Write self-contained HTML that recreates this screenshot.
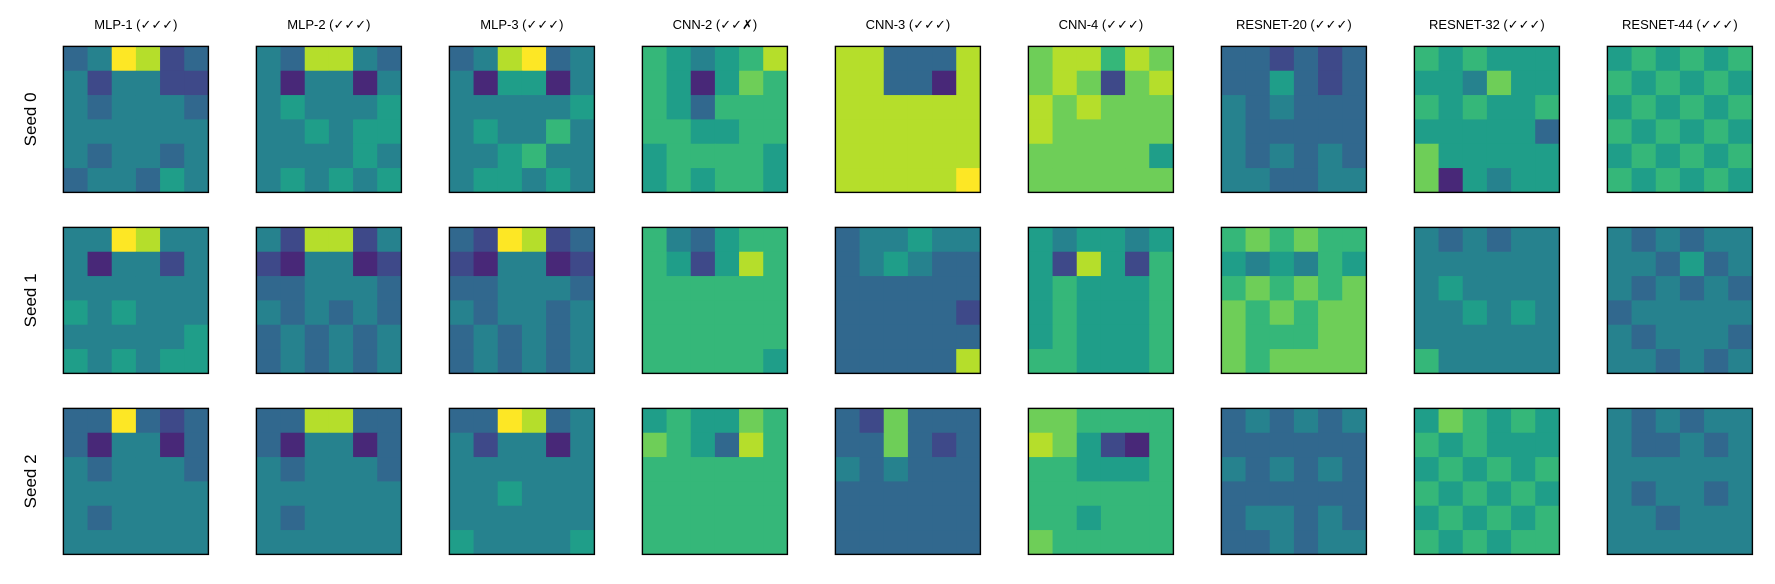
<!DOCTYPE html>
<html><head><meta charset="utf-8">
<style>
html,body{margin:0;padding:0;background:#fff;}
svg{display:block;font-family:"Liberation Sans","DejaVu Sans",sans-serif;}
</style></head>
<body>
<svg id="fig" width="1775" height="584" viewBox="0 0 1775 584"></svg>
<script>
const models = ["MLP-1 (✓✓✓)","MLP-2 (✓✓✓)","MLP-3 (✓✓✓)","CNN-2 (✓✓✗)","CNN-3 (✓✓✓)","CNN-4 (✓✓✓)","RESNET-20 (✓✓✓)","RESNET-32 (✓✓✓)","RESNET-44 (✓✓✓)"];
const seeds = ["Seed 0","Seed 1","Seed 2"];
const seed0Maps = [
 ["349823","424422","434443","444444","434434","344354"],
 ["438843","414414","454445","445455","444454","454545"],
 ["348934","415514","444445","454464","445644","455454"],
 ["654568","651576","653666","665566","566665","565665"],
 ["883338","883318","888888","888888","888888","888889"],
 ["788687","787278","878777","877777","777775","777777"],
 ["332323","335323","434333","433333","434343","443344"],
 ["656555","554755","656556","555553","755555","715455"],
 ["565656","656565","565656","656565","565656","656565"]];
const seed1Maps = [
 ["449844","414424","444444","545444","444445","545455"],
 ["428824","214412","334443","434343","343434","343434"],
 ["329823","214412","334443","434434","343434","343434"],
 ["643566","652586","666666","666666","666666","666665"],
 ["344544","345433","333333","333332","333333","333338"],
 ["545545","528526","565556","565556","565556","665556"],
 ["676766","545465","676767","767677","766677","767777"],
 ["434344","444444","454444","445454","444444","644444"],
 ["434344","443534","434343","344444","434443","443434"]];
const seed2Maps = [
 ["339323","314413","434443","444444","434444","444444"],
 ["338833","314413","434443","444444","434444","444444"],
 ["339834","424414","444444","445444","444444","544445"],
 ["565576","765386","666666","666666","666666","666666"],
 ["327333","337323","434333","333333","333333","333333"],
 ["776666","875216","665556","666666","665666","766666"],
 ["343434","333333","434343","333333","344343","334344"],
 ["576565","656555","565656","656565","565656","656566"],
 ["434344","433434","444444","434434","443444","444444"]];
const allMaps=[seed0Maps,seed1Maps,seed2Maps];
const viridis=["#440154","#482878","#3e4989","#31688e","#26828e","#1f9e89","#35b779","#6ece58","#b5de2b","#fde725"];
const NS="http://www.w3.org/2000/svg";
const svg=document.getElementById('fig');
const x0=63.4, dx=193, y0=46.4, dy=181, W=145, H=146;
function mk(t,a){const e=document.createElementNS(NS,t);for(const k in a)e.setAttribute(k,a[k]);return e;}
models.forEach((m,c)=>{
  const t=mk('text',{x:x0+c*dx+W/2,y:29,'text-anchor':'middle','font-size':13,fill:'#000'});
  t.textContent=m;
  
  
  svg.appendChild(t);
});
seeds.forEach((s,r)=>{
  const cy=y0+r*dy+H/2;
  const t=mk('text',{x:36,y:cy,'text-anchor':'middle','font-size':17,fill:'#000',transform:`rotate(-90 36 ${cy})`});
  t.textContent=s;
  
  
  svg.appendChild(t);
  allMaps[r].forEach((grid,c)=>{
    const g=mk('g',{});
    
    
    const px=x0+c*dx, py=y0+r*dy;
    const n=grid.length, cw=W/grid[0].length, ch=H/n;
    grid.forEach((row,i)=>{
      for(let j=0;j<row.length;j++){
        const v=+row[j];
        const rc=mk('rect',{x:px+j*cw,y:py+i*ch,width:cw+0.6,height:ch+0.6,fill:viridis[v]});
        
        
        g.appendChild(rc);
      }
    });
    const b=mk('rect',{x:px,y:py,width:W,height:H,fill:'none',stroke:'#000','stroke-width':1.4});
    
    
    g.appendChild(b);
    svg.appendChild(g);
  });
});
</script>
</body></html>
